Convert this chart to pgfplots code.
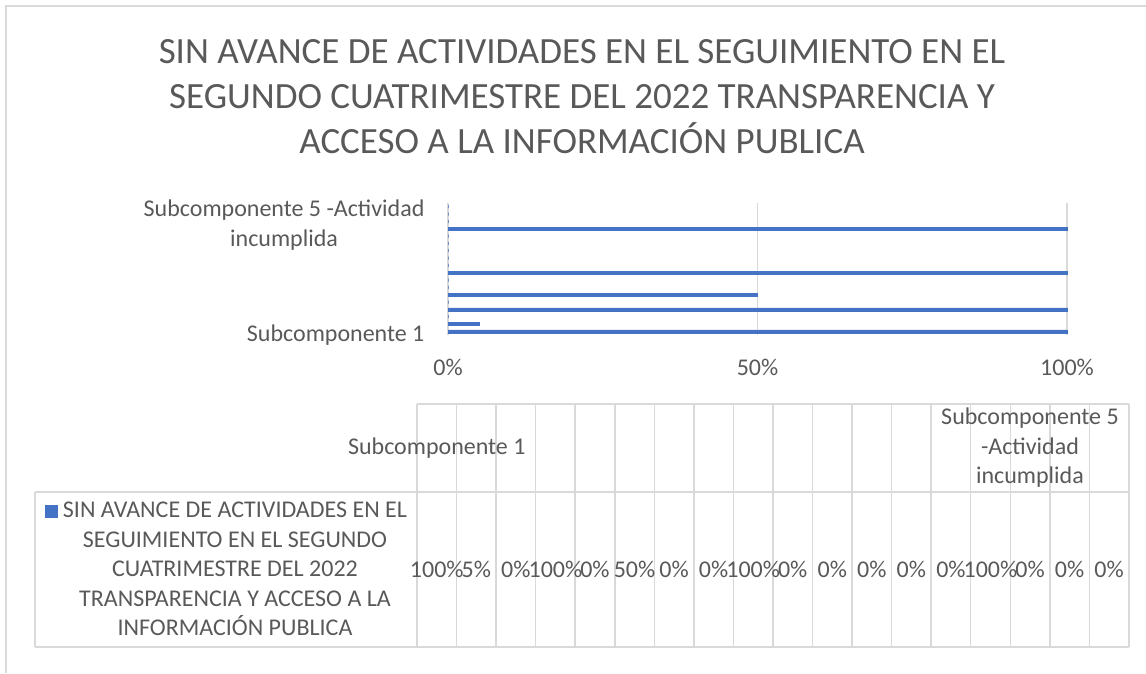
\documentclass[border=0pt]{standalone}
\usepackage{pgfplots}
\pgfplotsset{compat=1.18}
\usepackage{pgfplotstable}
\usepackage{fontspec}
\setmainfont{Carlito}
\definecolor{txt}{HTML}{595959}
\definecolor{grd}{HTML}{D9D9D9}
\definecolor{barc}{HTML}{4472C4}

\pgfplotstableread{
cat val
1 100
2 5
3 0
4 100
5 0
6 50
7 0
8 0
9 100
10 0
11 0
12 0
13 0
14 0
15 100
16 0
17 0
18 0
}\data

\begin{document}
\begin{tikzpicture}[x=1pt,y=1pt]
\path[use as bounding box] (0,0) rectangle (1146,673);
% outer chart border
\draw[grd, line width=1.2pt] (6,0) -- (6,667) -- (1146,667);
% title
\node[txt, align=center, font=\fontsize{37}{45}\selectfont] at (582,576)
  {SIN AVANCE DE ACTIVIDADES EN EL SEGUIMIENTO EN EL\\SEGUNDO CUATRIMESTRE DEL 2022 TRANSPARENCIA Y\\ACCESO A LA INFORMACIÓN PUBLICA};

\begin{axis}[at={(448pt,338pt)}, anchor=south west, scale only axis,
  width=619pt, height=132pt,
  xbar, bar width=3pt,
  xmin=0, xmax=100, ymin=0.5, ymax=18.5,
  xtick={0,50,100}, xticklabels={0\%,50\%,100\%},
  ytick={1,16},
  yticklabels={{Subcomponente 1},{Subcomponente 5 -Actividad\\incumplida}},
  xmajorgrids, major grid style={grd, line width=1.2pt},
  axis line style={draw=none}, major tick length=0pt,
  tick label style={txt, font=\fontsize{24}{29.5}\selectfont},
  xticklabel style={anchor=center, yshift=-32pt},
  yticklabel style={align=center, xshift=-20pt, yshift=-4pt},
  clip=false]
\addplot[fill=barc, draw=barc, line width=0.4pt] table[x=val, y=cat] {\data};
\end{axis}

% data table grid
\begin{scope}[grd, line width=1.5pt]
\draw (417,269) -- (1129,269);
\draw (35,181) -- (1129,181);
\draw (35,26) -- (1129,26);
\draw (35,181) -- (35,26);
\foreach \k in {0,...,18} \draw ({417+\k*39.55},269) -- ({417+\k*39.55},26);
\end{scope}

% header row
\node[txt, font=\fontsize{24}{29.5}\selectfont] at (436.8,225) {Subcomponente 1};
\node[txt, align=center, font=\fontsize{24}{29.5}\selectfont] at (1030,225) {Subcomponente 5\\-Actividad\\incumplida};

% values row
\foreach \i in {0,...,17}{
  \pgfplotstablegetelem{\i}{val}\of\data
  \node[txt, font=\fontsize{24}{29.5}\selectfont, inner sep=0pt] at ({417+(\i+0.5)*39.55},104) {\pgfplotsretval\%};
}

% legend cell
\node[txt, align=center, font=\fontsize{24}{29.5}\selectfont] at (235,104)
  {\llap{\textcolor{barc}{\rule{13pt}{13pt}}\hspace{5pt}}SIN AVANCE DE ACTIVIDADES EN EL\\SEGUIMIENTO EN EL SEGUNDO\\CUATRIMESTRE DEL 2022\\TRANSPARENCIA Y ACCESO A LA\\INFORMACIÓN PUBLICA};
\end{tikzpicture}
\end{document}
